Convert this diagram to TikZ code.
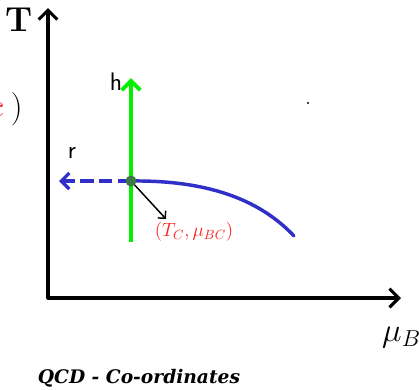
\documentclass[tikz,border=0pt]{standalone}
\usepackage{amsmath,amssymb}
\usepackage{tikz}
\usepackage{xcolor}
\usepackage{fontspec}
\newfontfamily\titlefont{DejaVu Serif}
\usetikzlibrary{arrows.meta,positioning,calc}
\definecolor{hgreen}{RGB}{0,240,0}
\definecolor{rblue}{RGB}{48,48,200}
\definecolor{dotgreen}{RGB}{60,120,70}
\definecolor{lblred}{RGB}{255,30,30}

\begin{document}
\begin{tikzpicture}[x=0.75pt,y=-0.75pt,
  axis/.style={line width=2.3pt,-{Straight Barb[length=7pt,width=14pt,line width=2.3pt]}},
  field/.style={line width=3pt,hgreen,-{Straight Barb[length=7pt,width=14pt,line width=3pt]}},
  lbl/.style={font=\sffamily\fontsize{19}{21}\selectfont,inner sep=0pt}]
  \useasboundingbox (0,0) rectangle (419,390);
  % axes
  \coordinate (origin) at (48,298);
  \coordinate (ttip) at (48,8);
  \coordinate (mutip) at (401,298);
  \draw[axis,line cap=round] (origin) -- (ttip);
  \draw[axis,line cap=round] (origin) -- (mutip);
  \node[font=\bfseries\fontsize{26}{26}\selectfont,inner sep=0pt] (tlab) at (19,20) {T};
  \node[font=\fontsize{27}{27}\selectfont,inner sep=0pt,anchor=east] (mulab) at (421,338) {$\mu_B$};
  % critical point and directions
  \coordinate (crit) at (131,181);
  \coordinate (hbot) at (131,242);
  \coordinate (htip) at (131,78);
  \coordinate (rtip) at (59,181);
  \coordinate (cend) at (294,236);
  \coordinate (tcend) at (166,219);
  \draw[field] (hbot) -- (htip);
  \node[lbl] (hlab) at (116,82) {h};
  \draw[rblue,line width=2.6pt,line cap=round] (crit) .. controls (212,180) and (262,202) .. (cend);
  \draw[rblue,line width=2.6pt,dashed,dash pattern=on 10pt off 4pt,
    -{Straight Barb[length=6pt,width=12pt,line width=2.4pt]}] (crit) -- (rtip);
  \node[lbl] (rlab) at (72,153) {r};
  \draw[line width=1.1pt,-{Straight Barb[length=4pt,width=8pt]}] (crit) -- (tcend);
  \fill[dotgreen] (crit) circle (5.5);
  \node[text=lblred,font=\fontsize{14}{16}\selectfont,inner sep=0pt] (tclab) at (194,232) {$(T_C,\mu_{BC})$};
  % cut-off text on the left and stray dot
  \node[font=\fontsize{34}{34}\selectfont,inner sep=0pt,anchor=east] (paren) at (23,109)
    {$\textcolor{lblred}{c}\hspace{6pt})$};
  \fill (308,103) circle (1.1);
  \node[font=\titlefont\bfseries\itshape\fontsize{14}{16}\selectfont,inner sep=0pt] (title) at (139,378)
    {QCD - Co-ordinates};
\end{tikzpicture}
\end{document}
